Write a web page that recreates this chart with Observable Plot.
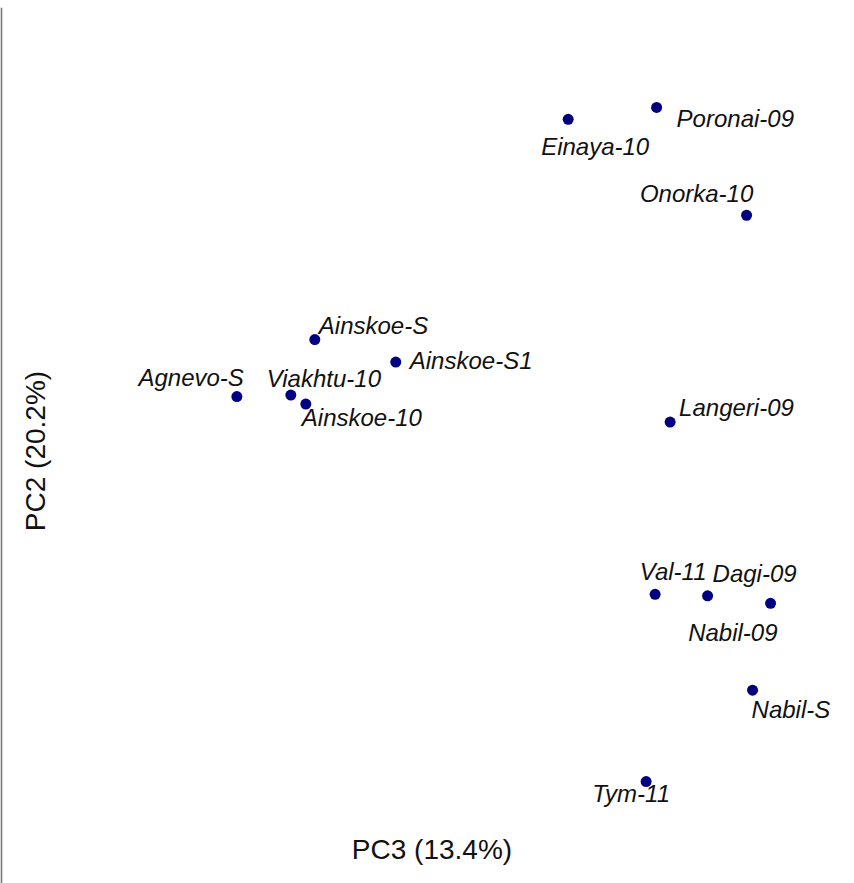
<!DOCTYPE html>
<html>
<head>
<meta charset="utf-8">
<script src="https://cdn.jsdelivr.net/npm/d3@7"></script>
<script src="https://cdn.jsdelivr.net/npm/@observablehq/plot@0.6"></script>
<style>
  html, body { margin: 0; padding: 0; background: #fff; }
  #chart svg { display: block; }
</style>
</head>
<body>
<div id="chart"></div>
<script>
// Sample names and PCA scores (PC3 on x, PC2 on y)
const samples = ["Einaya-10", "Poronai-09", "Onorka-10", "Ainskoe-S", "Ainskoe-S1", "Agnevo-S",
  "Viakhtu-10", "Ainskoe-10", "Langeri-09", "Val-11", "Dagi-09", "Nabil-09", "Nabil-S", "Tym-11"];
const pc3 = [0.92, 1.51, 2.11, -0.77, -0.23, -1.29, -0.93, -0.83, 1.60, 1.50, 1.85, 2.27, 2.15, 1.44];
const pc2 = [2.21, 2.29, 1.57, 0.74, 0.59, 0.36, 0.37, 0.31, 0.19, -0.96, -0.97, -1.02, -1.60, -2.21];
const xTitle = "PC3 (13.4%)";
const yTitle = "PC2 (20.2%)";

const data = samples.map((s, i) => ({ name: s, x: pc3[i], y: pc2[i] }));

// label placement (style only): [textAnchor, dx, dy]
const place = {
  "Einaya-10": ["middle", 27, 28],
  "Poronai-09": ["start", 20, 12],
  "Onorka-10": ["middle", -50, -21],
  "Ainskoe-S": ["start", 4, -13],
  "Ainskoe-S1": ["start", 14, -1],
  "Agnevo-S": ["end", 7, -18],
  "Viakhtu-10": ["middle", 33, -16],
  "Ainskoe-10": ["start", -4, 14],
  "Langeri-09": ["start", 9, -14],
  "Val-11": ["middle", 18, -22],
  "Dagi-09": ["start", 5, -22],
  "Nabil-09": ["end", 7, 30],
  "Nabil-S": ["start", -1, 20],
  "Tym-11": ["middle", -15, 13]
};

const labelMarks = data.map(d => Plot.text([d], {
  x: "x", y: "y", text: "name",
  textAnchor: place[d.name][0],
  dx: place[d.name][1], dy: place[d.name][2],
  fontStyle: "italic", fontSize: 24, fill: "#111",
  fontFamily: "Liberation Sans, Arial, sans-serif"
}));

const chart = Plot.plot({
  width: 854,
  height: 883,
  marginLeft: 1,
  marginRight: 0,
  marginTop: 8,
  marginBottom: 0,
  style: { background: "#fff", fontFamily: "Liberation Sans, Arial, sans-serif" },
  x: { domain: [-2.86, 2.83], axis: null },
  y: { domain: [-2.89, 2.95], axis: null },
  marks: [
    Plot.frame({ anchor: "left", stroke: "#777", strokeWidth: 1.6 }),
    Plot.dot(data, { x: "x", y: "y", r: 5.5, fill: "#000080", stroke: "none" }),
    ...labelMarks,
    Plot.text([xTitle], { frameAnchor: "bottom", text: d => d, dx: 4, dy: -33, lineAnchor: "middle",
      fontSize: 28, fill: "#111" }),
    Plot.text([yTitle], { frameAnchor: "left", text: d => d, rotate: -90, textAnchor: "middle",
      dx: 35, dy: 5, lineAnchor: "middle", fontSize: 28, fill: "#111" })
  ]
});
document.getElementById("chart").appendChild(chart);
</script>
</body>
</html>
